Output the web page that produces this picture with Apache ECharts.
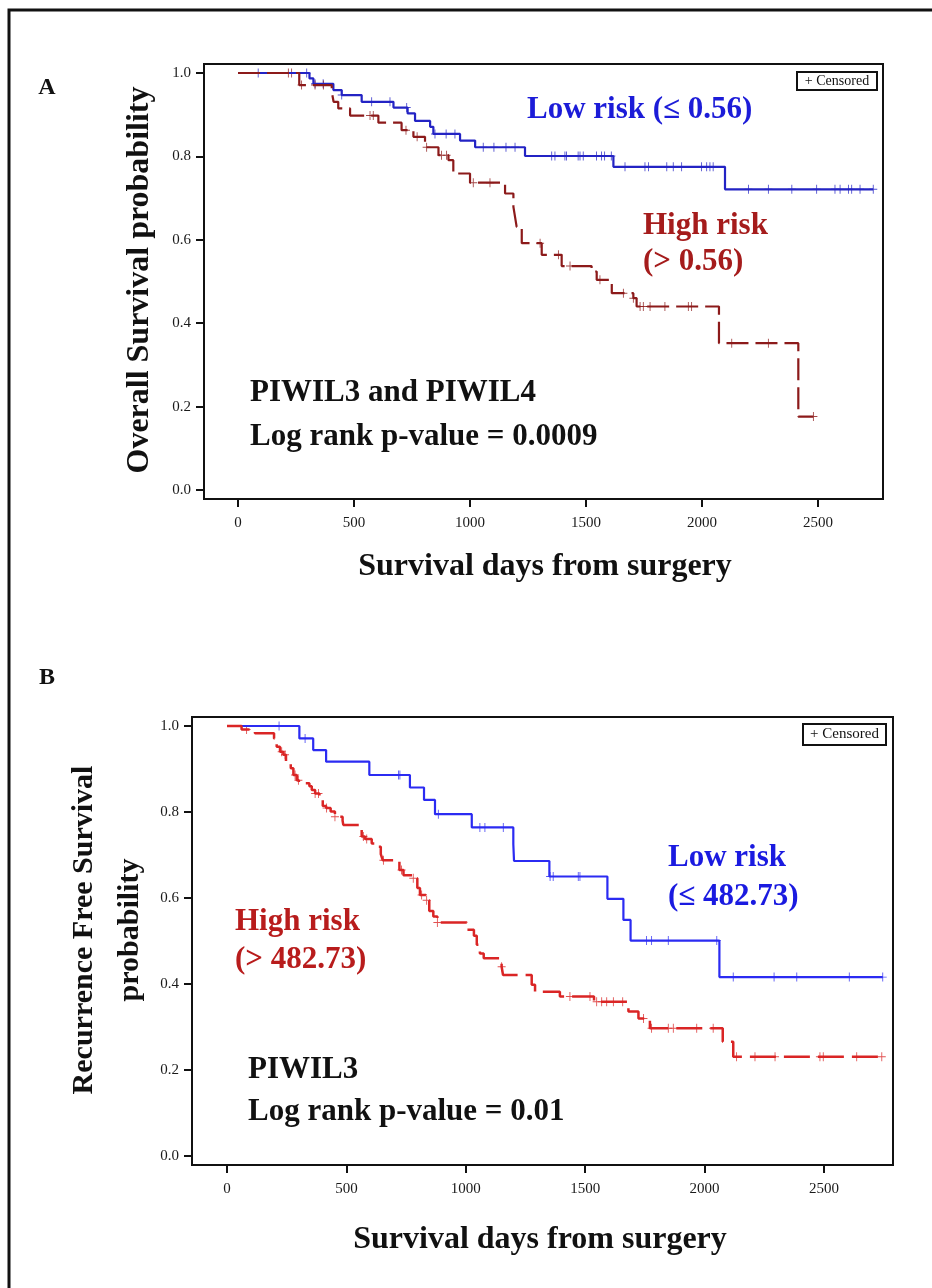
<!DOCTYPE html>
<html>
<head>
<meta charset="utf-8">
<script src="https://cdn.jsdelivr.net/npm/echarts@6/dist/echarts.min.js"></script>
<style>
html,body{margin:0;padding:0;background:#fff;}
#chart{width:932px;height:1288px;}
</style>
</head>
<body>
<div id="chart"></div>
<script>
// ---------- DATA ----------
const xTicks = [0, 500, 1000, 1500, 2000, 2500];
const yTicks = [0, 0.2, 0.4, 0.6, 0.8, 1.0];

// Panel A: Overall survival, PIWIL3 and PIWIL4
const lowA_eventDays = [308, 325, 411, 447, 533, 670, 731, 763, 828, 842, 957, 1022, 1237, 1618, 2099];
const lowA_survival  = [0.987, 0.974, 0.959, 0.947, 0.931, 0.917, 0.903, 0.885, 0.871, 0.854, 0.838, 0.822, 0.801, 0.775, 0.721];
const lowA_censorDays = [87, 296, 332, 367, 447, 576, 655, 727, 849, 897, 935, 1057, 1103, 1155, 1194, 1352, 1366, 1409, 1416, 1466, 1474, 1488, 1545, 1567, 1580, 1609, 1668, 1754, 1769, 1848, 1876, 1912, 1998, 2020, 2034, 2048, 2200, 2286, 2387, 2494, 2573, 2595, 2631, 2645, 2681, 2738];

const highA_eventDays = [264, 404, 412, 432, 483, 605, 705, 756, 806, 864, 907, 928, 1000, 1151, 1187, 1194, 1201, 1223, 1309, 1395, 1524, 1546, 1611, 1704, 1718, 2073, 2415];
const highA_survival  = [0.971, 0.955, 0.931, 0.915, 0.898, 0.881, 0.863, 0.847, 0.822, 0.803, 0.791, 0.759, 0.737, 0.711, 0.679, 0.655, 0.631, 0.592, 0.564, 0.537, 0.524, 0.504, 0.472, 0.460, 0.440, 0.352, 0.176];
const highA_censorDays = [217, 231, 274, 332, 368, 569, 583, 724, 772, 813, 877, 899, 1014, 1086, 1302, 1381, 1431, 1560, 1661, 1704, 1733, 1747, 1776, 1840, 1941, 1955, 2128, 2286, 2480];

// Panel B: Recurrence free survival, PIWIL3
const lowB_eventDays = [303, 361, 415, 596, 766, 825, 871, 1025, 1199, 1202, 1350, 1593, 1660, 1690, 2062];
const lowB_survival  = [0.971, 0.944, 0.917, 0.886, 0.857, 0.828, 0.795, 0.764, 0.725, 0.686, 0.650, 0.598, 0.549, 0.501, 0.416];
const lowB_censorDays = [218, 327, 718, 724, 885, 1059, 1080, 1157, 1353, 1366, 1471, 1478, 1757, 1778, 1848, 2051, 2120, 2291, 2386, 2606, 2746];

const highB_eventDays = [61, 117, 197, 208, 222, 236, 247, 267, 278, 292, 301, 345, 355, 369, 387, 401, 415, 434, 452, 484, 487, 554, 564, 578, 606, 620, 644, 652, 722, 739, 780, 797, 808, 833, 847, 864, 881, 1004, 1034, 1046, 1059, 1075, 1150, 1156, 1276, 1290, 1394, 1537, 1681, 1723, 1771, 2076, 2120];
const highB_survival  = [0.992, 0.983, 0.971, 0.952, 0.940, 0.933, 0.917, 0.902, 0.886, 0.874, 0.867, 0.860, 0.851, 0.843, 0.836, 0.814, 0.809, 0.801, 0.789, 0.780, 0.770, 0.762, 0.743, 0.737, 0.727, 0.719, 0.702, 0.688, 0.665, 0.653, 0.646, 0.623, 0.607, 0.595, 0.570, 0.557, 0.543, 0.526, 0.512, 0.491, 0.471, 0.460, 0.440, 0.421, 0.398, 0.382, 0.371, 0.359, 0.336, 0.320, 0.297, 0.266, 0.231];
const highB_censorDays = [82, 229, 243, 285, 299, 369, 383, 417, 452, 571, 585, 655, 731, 780, 815, 836, 881, 1150, 1436, 1520, 1548, 1569, 1590, 1618, 1657, 1744, 1778, 1848, 1869, 1967, 2036, 2134, 2211, 2295, 2483, 2497, 2637, 2742];

// ---------- helpers ----------
function kmLine(events, surv, censors) {
  const pts = [[0, 1]];
  events.forEach((d, i) => pts.push([d, surv[i]]));
  const last = Math.max(...censors);
  if (last > events[events.length - 1]) pts.push([last, surv[surv.length - 1]]);
  return pts;
}
function survAt(events, surv, t) {
  let s = 1;
  for (let i = 0; i < events.length; i++) if (events[i] <= t) s = surv[i];
  return s;
}
function censorPts(events, surv, censors) {
  return censors.map(t => [t, survAt(events, surv, t)]);
}

const SERIF = '"Liberation Serif", "Times New Roman", serif';
const PLUS = 'path://M4.45,0H5.55V10H4.45Z M0,4.45H10V5.55H0Z';

const blueA = '#2323C4', redA = '#8C1A1A';
const blueB = '#2B2BF2', redB = '#DA2525';

function xAxisCfg(gi, min, max) {
  return {
    type: 'value', gridIndex: gi, min: min, max: max,
    axisLine: { show: true, onZero: false, lineStyle: { color: '#111', width: 2 } },
    axisTick: { show: true, inside: false, length: 8, lineStyle: { color: '#111', width: 2 }, customValues: xTicks },
    axisLabel: { show: true, margin: 17, fontFamily: SERIF, fontSize: 15, color: '#1a1a1a', customValues: xTicks,
      formatter: v => String(Math.round(v)) },
    splitLine: { show: false }
  };
}
function yAxisCfg(gi, min, max) {
  return {
    type: 'value', gridIndex: gi, min: min, max: max,
    axisLine: { show: true, onZero: false, lineStyle: { color: '#111', width: 2 } },
    axisTick: { show: true, inside: false, length: 8, lineStyle: { color: '#111', width: 2 }, customValues: yTicks },
    axisLabel: { show: true, margin: 13, fontFamily: SERIF, fontSize: 15, color: '#1a1a1a', customValues: yTicks,
      formatter: v => v.toFixed(1) },
    splitLine: { show: false }
  };
}

function lineSeries(gi, data, color, width, dash) {
  return {
    type: 'line', xAxisIndex: gi, yAxisIndex: gi, step: 'end', data: data,
    showSymbol: false, symbol: 'none', animation: false,
    lineStyle: { color: color, width: width, type: dash || 'solid' }
  };
}
function censorSeries(gi, data, color) {
  return {
    type: 'scatter', xAxisIndex: gi, yAxisIndex: gi, data: data,
    symbol: PLUS, symbolSize: [8, 9], animation: false,
    itemStyle: { color: color }
  };
}

function txt(text, x, y, size, color, align, opts) {
  return Object.assign({
    type: 'text', x: x, y: y,
    style: { text: text, font: 'bold ' + size + 'px ' + SERIF, fill: color,
      textAlign: align || 'left', textVerticalAlign: 'middle' }
  }, opts || {});
}

const chart = echarts.init(document.getElementById('chart'), null, { renderer: 'canvas' });

chart.setOption({
  backgroundColor: '#fff',
  animation: false,
  grid: [
    { left: 204, top: 64, width: 679, height: 435, show: true, borderColor: '#111', borderWidth: 2, backgroundColor: 'transparent', containLabel: false },
    { left: 192, top: 717, width: 701, height: 448, show: true, borderColor: '#111', borderWidth: 2, backgroundColor: 'transparent', containLabel: false }
  ],
  xAxis: [xAxisCfg(0, -146.6, 2780), xAxisCfg(1, -146.6, 2789)],
  yAxis: [yAxisCfg(0, -0.0216, 1.0216), yAxisCfg(1, -0.0209, 1.0209)],
  series: [
    lineSeries(0, kmLine(lowA_eventDays, lowA_survival, lowA_censorDays), blueA, 2.2),
    lineSeries(0, kmLine(highA_eventDays, highA_survival, highA_censorDays), redA, 2.2, [22, 7]),
    censorSeries(0, censorPts(lowA_eventDays, lowA_survival, lowA_censorDays), blueA),
    censorSeries(0, censorPts(highA_eventDays, highA_survival, highA_censorDays), redA),
    lineSeries(1, kmLine(lowB_eventDays, lowB_survival, lowB_censorDays), blueB, 2.2),
    lineSeries(1, kmLine(highB_eventDays, highB_survival, highB_censorDays), redB, 2.5, [26, 8]),
    censorSeries(1, censorPts(lowB_eventDays, lowB_survival, lowB_censorDays), blueB),
    censorSeries(1, censorPts(highB_eventDays, highB_survival, highB_censorDays), redB)
  ],
  graphic: [
    { type: 'rect', shape: { x: 9, y: 10, width: 940, height: 1400 }, style: { fill: 'none', stroke: '#111', lineWidth: 3 }, silent: true },
    txt('A', 47, 88, 24, '#111', 'center'),
    txt('B', 47, 678, 24, '#111', 'center'),
    // Panel A titles
    txt('Overall Survival probability', 140, 280, 32, '#111', 'center', { rotation: Math.PI / 2 }),
    txt('Survival days from surgery', 545, 567, 32, '#111', 'center'),
    txt('Low risk (\u2264 0.56)', 527, 110, 31, '#1C1CD8', 'left'),
    txt('High risk', 643, 226, 31, '#A51C1C', 'left'),
    txt('(> 0.56)', 643, 262, 31, '#A51C1C', 'left'),
    txt('PIWIL3 and PIWIL4', 250, 393, 31, '#111', 'left'),
    txt('Log rank p-value = 0.0009', 250, 437, 31, '#111', 'left'),
    { type: 'rect', shape: { x: 797, y: 72, width: 80, height: 18 }, style: { fill: '#fff', stroke: '#111', lineWidth: 2 } },
    { type: 'text', x: 837, y: 81, style: { text: '+ Censored', font: '14px ' + SERIF, fill: '#111', textAlign: 'center', textVerticalAlign: 'middle' } },
    // Panel B titles
    txt('Recurrence Free Survival', 84, 930, 30, '#111', 'center', { rotation: Math.PI / 2 }),
    txt('probability', 130, 930, 30, '#111', 'center', { rotation: Math.PI / 2 }),
    txt('Survival days from surgery', 540, 1240, 32, '#111', 'center'),
    txt('Low risk', 668, 858, 31, '#1A1AE0', 'left'),
    txt('(\u2264 482.73)', 668, 897, 31, '#1A1AE0', 'left'),
    txt('High risk', 235, 922, 31, '#B81C1C', 'left'),
    txt('(> 482.73)', 235, 960, 31, '#B81C1C', 'left'),
    txt('PIWIL3', 248, 1070, 31, '#111', 'left'),
    txt('Log rank p-value = 0.01', 248, 1112, 31, '#111', 'left'),
    { type: 'rect', shape: { x: 803, y: 724, width: 83, height: 21 }, style: { fill: '#fff', stroke: '#111', lineWidth: 2 } },
    { type: 'text', x: 844.5, y: 734.5, style: { text: '+ Censored', font: '15px ' + SERIF, fill: '#111', textAlign: 'center', textVerticalAlign: 'middle' } }
  ]
});
</script>
</body>
</html>
